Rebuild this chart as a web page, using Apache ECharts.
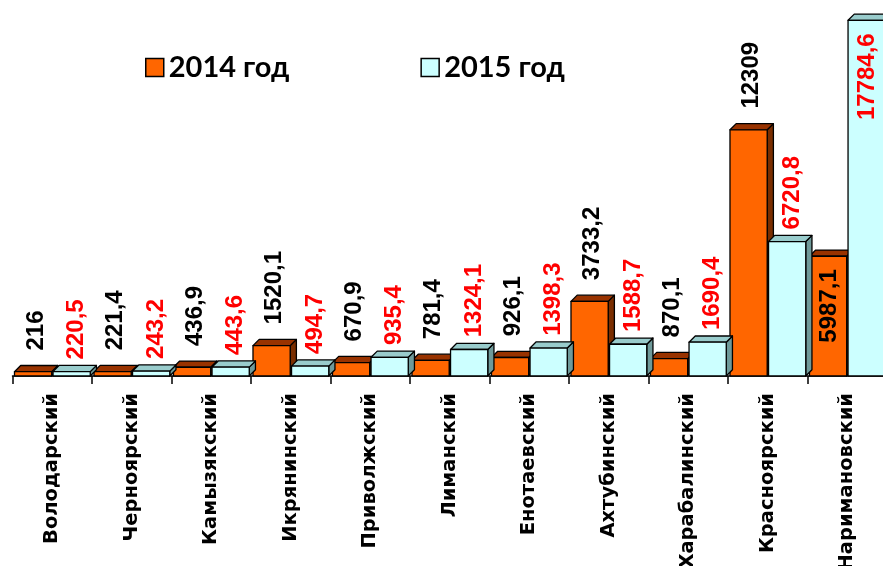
<!DOCTYPE html>
<html>
<head>
<meta charset="utf-8">
<script src="https://cdn.jsdelivr.net/npm/echarts@6/dist/echarts.min.js"></script>
<style>
    html, body { margin: 0; padding: 0; background: #fff; }
    #main { width: 883px; height: 566px; }
</style>
</head>
<body>
<div id="main"></div>
<script>
var categories = ['Володарский', 'Черноярский', 'Камызякский', 'Икрянинский', 'Приволжский',
    'Лиманский', 'Енотаевский', 'Ахтубинский', 'Харабалинский', 'Красноярский', 'Наримановский'];
var seriesNames = ['2014 год', '2015 год'];
var values2014 = [216, 221.4, 436.9, 1520.1, 670.9, 781.4, 926.1, 3733.2, 870.1, 12309, 5987.1];
var values2015 = [220.5, 243.2, 443.6, 494.7, 935.4, 1324.1, 1398.3, 1588.7, 1690.4, 6720.8, 17784.6];
// labels that sit inside the bar instead of above it
var insideLabelCats = ['Наримановский'];

var faces = [
    { front: '#FF6600', top: '#993300', side: '#7A2E00', label: '#000000', gap: 15, shift: 0 },
    { front: '#CCFFFF', top: '#99CCCC', side: '#6E9A9A', label: '#FF0000', gap: 6, shift: 2 }
];

function fmt(v) {
    return String(v).replace('.', ',');
}

function make3dBar(idx) {
    var f = faces[idx];
    return function (params, api) {
        var ci = api.value(0);
        var val = api.value(1);
        var base = api.coord([ci, 0]);
        var top = api.coord([ci, val]);
        var band = api.size([1, 0])[0];
        var w = band * 0.468;
        var d = band * 0.078;
        var x0 = base[0] + (idx === 0 ? -band * 0.475 : band * 0.01);
        var yt = top[1], yb = base[1];
        var cx = x0 + w / 2 + d / 2 + f.shift;
        var inside = insideLabelCats.indexOf(categories[ci]) >= 0;
        var stroke = { stroke: '#000', lineWidth: 1.3, lineJoin: 'round' };
        return {
            type: 'group',
            children: [
                {
                    type: 'polygon',
                    shape: { points: [[x0 + w, yt], [x0 + w + d, yt - d], [x0 + w + d, yb - d], [x0 + w, yb]] },
                    style: Object.assign({ fill: f.side }, stroke)
                },
                {
                    type: 'polygon',
                    shape: { points: [[x0, yt], [x0 + d, yt - d], [x0 + w + d, yt - d], [x0 + w, yt]] },
                    style: Object.assign({ fill: f.top }, stroke)
                },
                {
                    type: 'rect',
                    shape: { x: x0, y: yt, width: w, height: yb - yt },
                    style: Object.assign({ fill: f.front }, stroke)
                },
                {
                    type: 'text',
                    x: inside ? x0 + w / 2 + 1 : cx,
                    y: inside ? yt + 13 : yt - d - f.gap,
                    rotation: Math.PI / 2,
                    z2: 100,
                    style: {
                        text: fmt(val),
                        fill: f.label,
                        fontFamily: 'Liberation Sans',
                        fontWeight: 'bold',
                        fontSize: 24,
                        align: inside ? 'right' : 'left',
                        verticalAlign: 'middle'
                    }
                }
            ]
        };
    };
}

var myChart = echarts.init(document.getElementById('main'));
var option = {
    animation: false,
    backgroundColor: '#ffffff',
    legend: {
        left: 140,
        top: 48,
        itemGap: 131,
        itemWidth: 18,
        itemHeight: 18,
        icon: 'rect',
        itemStyle: { borderColor: '#000', borderWidth: 1.5 },
        textStyle: {
            fontFamily: 'Lato',
            fontWeight: 'bold',
            fontSize: 29,
            color: '#000'
        },
        data: seriesNames
    },
    grid: {
        left: 12.5,
        right: -4,
        top: 6,
        bottom: 190,
        containLabel: false,
        outerBoundsMode: 'none'
    },
    xAxis: {
        type: 'category',
        data: categories,
        boundaryGap: true,
        axisLine: { lineStyle: { color: '#000', width: 1.5 } },
        axisTick: { show: true, interval: 0, length: 8, lineStyle: { color: '#000', width: 1.5 } },
        axisLabel: {
            interval: 0,
            rotate: 90,
            margin: 17,
            color: '#000',
            fontFamily: 'DejaVu Sans',
            fontWeight: 'bold',
            fontSize: 19.5
        }
    },
    yAxis: {
        type: 'value',
        min: 0,
        max: 18500,
        show: false,
        splitLine: { show: false }
    },
    series: [
        {
            name: seriesNames[0],
            type: 'custom',
            renderItem: make3dBar(0),
            itemStyle: { color: faces[0].front },
            encode: { x: 0, y: 1 },
            clip: false,
            data: values2014.map(function (v, i) { return [i, v]; })
        },
        {
            name: seriesNames[1],
            type: 'custom',
            renderItem: make3dBar(1),
            itemStyle: { color: faces[1].front },
            encode: { x: 0, y: 1 },
            clip: false,
            data: values2015.map(function (v, i) { return [i, v]; })
        }
    ]
};
myChart.setOption(option);
</script>
</body>
</html>
